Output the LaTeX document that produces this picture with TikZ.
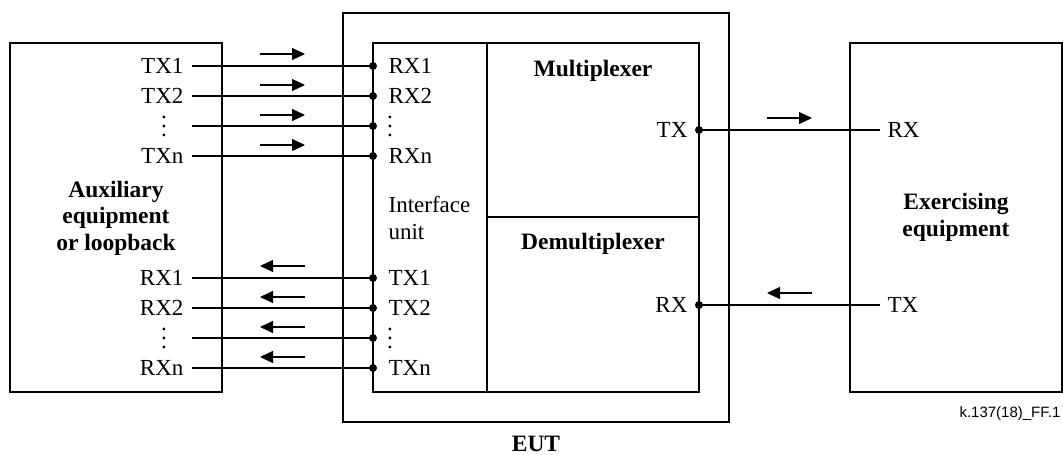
\documentclass[tikz,border=0pt]{standalone}
\usepackage{fontspec}
\setmainfont{Liberation Serif}
\newfontfamily\figsans{Liberation Sans}
\usetikzlibrary{arrows.meta}
\begin{document}
\begin{tikzpicture}[x=1pt,y=-1pt,
  every path/.style={line width=1.2pt},
  box/.style={draw, line width=1.2pt, inner sep=0pt},
  lbl/.style={font=\fontsize{23}{26.5}\selectfont, inner sep=0pt},
  blbl/.style={font=\fontsize{23.5}{26.5}\selectfont\bfseries, inner sep=0pt, align=center},
  vdot/.style={font=\fontsize{23}{9}\selectfont, inner sep=0pt, align=center},
  dir/.style={-{Triangle[length=13pt,width=12pt]}, line width=1.2pt},
  junction/.style={circle, fill=black, draw=none, inner sep=0pt, minimum size=8pt}]
\useasboundingbox (0,0) rectangle (1063,455);
% boxes
\node[box, minimum width=212pt, minimum height=349pt] (aux) at (116,217.5) {};
\node[box, minimum width=386pt, minimum height=409pt] (eut) at (536,217.5) {};
\node[box, minimum width=114pt, minimum height=349pt] (iface) at (430,217.5) {};
\node[box, minimum width=212pt, minimum height=174pt] (mux) at (593,130) {};
\node[box, minimum width=212pt, minimum height=175pt] (demux) at (593,304.5) {};
\node[box, minimum width=212pt, minimum height=349pt] (exer) at (956,217.5) {};
% box texts
\node[blbl] (auxt) at (116,218) {Auxiliary\\equipment\\or loopback};
\node[blbl] (exert) at (956,217.5) {Exercising\\equipment};
\node[lbl, align=left, anchor=west] (ifacet) at (388,218) {Interface\\unit};
\node[blbl, anchor=base] (muxt) at (593,76) {Multiplexer};
\node[blbl, anchor=base] (demuxt) at (593,249) {Demultiplexer};
\node[blbl, anchor=base] (eutt) at (536,451) {EUT};
\node[font=\figsans\fontsize{15}{18}\selectfont, inner sep=0pt, anchor=base east] (ref) at (1061,417) {k.137(18)\_FF.1};
% left-side labels
\foreach \n/\t/\y in {1/TX1/66, 2/TX2/96, 4/TXn/156, 5/RX1/278, 6/RX2/308, 8/RXn/368} {
  \node[lbl, anchor=base east] (al\n) at (184,\y+7.8) {\t};
}
\foreach \n/\y in {3/126, 7/338} {
  \node[vdot] (al\n) at (164,\y) {.\\.\\.};
}
% interface labels
\foreach \n/\t/\y in {1/RX1/66, 2/RX2/96, 4/RXn/156, 5/TX1/278, 6/TX2/308, 8/TXn/368} {
  \node[lbl, anchor=base west] (il\n) at (388,\y+7.8) {\t};
}
\foreach \n/\y in {3/126, 7/338} {
  \node[vdot] (il\n) at (390,\y) {.\\.\\.};
}
% line ends and junctions
\foreach \n/\y in {1/66, 2/96, 3/126, 4/156, 5/278, 6/308, 7/338, 8/368} {
  \coordinate (s\n) at (192,\y);
  \node[junction] (j\n) at (373,\y) {};
  \draw (s\n) -- (j\n.center);
}
% direction arrows
\foreach \y in {54,85,115,145} {
  \coordinate (ra\y) at (260,\y); \coordinate (rb\y) at (305,\y);
  \draw[dir] (ra\y) -- (rb\y);
}
\foreach \y in {266,297,327,357} {
  \coordinate (la\y) at (305,\y); \coordinate (lb\y) at (260,\y);
  \draw[dir] (la\y) -- (lb\y);
}
% right side
\node[junction] (mtx) at (699,130) {};
\node[junction] (drx) at (699,305) {};
\node[lbl, anchor=base east] (mtxt) at (688,137.8) {TX};
\node[lbl, anchor=base east] (drxt) at (688,312.8) {RX};
\coordinate (erx) at (880,130);
\coordinate (etx) at (880,305);
\node[lbl, anchor=base west] (erxt) at (887,137.8) {RX};
\node[lbl, anchor=base west] (etxt) at (887,312.8) {TX};
\draw (mtx.center) -- (erx);
\draw (drx.center) -- (etx);
\coordinate (ma) at (767,118); \coordinate (mb) at (812,118);
\draw[dir] (ma) -- (mb);
\coordinate (da) at (812,293); \coordinate (db) at (767,293);
\draw[dir] (da) -- (db);
\end{tikzpicture}
\end{document}
